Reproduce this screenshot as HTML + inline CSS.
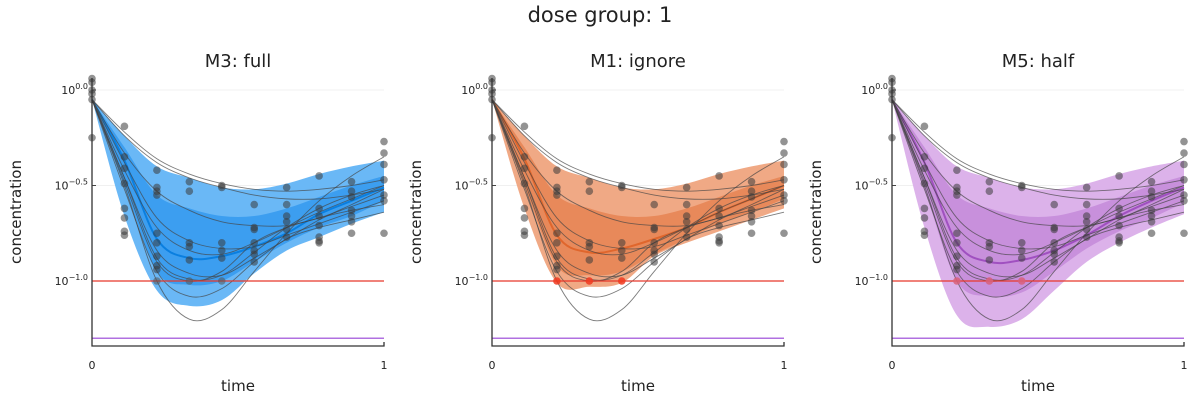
<!DOCTYPE html>
<html><head><meta charset="utf-8"><style>
body{margin:0;background:#fff;font-family:"Liberation Sans","DejaVu Sans",sans-serif}
svg text{font-family:"DejaVu Sans","Liberation Sans",sans-serif;fill:#222}
</style></head><body>
<svg id="c" width="1200" height="400" xmlns="http://www.w3.org/2000/svg">
<text x="600" y="22" text-anchor="middle" font-size="21">dose group: 1</text>
</svg>
<script>
const times=[0,1/9,2/9,3/9,4/9,5/9,6/9,7/9,8/9,1];
const subjects=[
[-0.05,-0.22,-0.36,-0.44,-0.49,-0.52,-0.53,-0.52,-0.50,-0.47],
[-0.05,-0.24,-0.38,-0.46,-0.51,-0.55,-0.57,-0.57,-0.55,-0.52],
[-0.05,-0.33,-0.53,-0.63,-0.69,-0.71,-0.71,-0.67,-0.61,-0.55],
[-0.05,-0.50,-1.00,-1.20,-1.15,-0.95,-0.75,-0.58,-0.45,-0.35],
[-0.05,-0.52,-0.95,-1.08,-1.04,-0.90,-0.78,-0.72,-0.68,-0.64],
[-0.05,-0.42,-0.72,-0.84,-0.86,-0.80,-0.72,-0.64,-0.57,-0.50],
[-0.05,-0.46,-0.84,-0.96,-0.97,-0.88,-0.78,-0.68,-0.60,-0.52],
[-0.05,-0.46,-0.88,-0.99,-0.97,-0.85,-0.72,-0.62,-0.55,-0.50],
[-0.05,-0.38,-0.67,-0.79,-0.83,-0.82,-0.76,-0.70,-0.64,-0.58],
[-0.05,-0.48,-0.90,-1.00,-0.95,-0.80,-0.72,-0.67,-0.63,-0.60]];
const observations=[
[0.06,0.04,0,-0.02,-0.05,-0.25],
[-0.19,-0.35,-0.41,-0.49,-0.62,-0.67,-0.74,-0.76],
[-0.42,-0.51,-0.53,-0.55,-0.75,-0.80,-0.87,-0.92,-0.94,-1.0],
[-0.48,-0.53,-0.8,-0.82,-0.89,-1.0],
[-0.5,-0.51,-0.8,-0.84,-0.88,-1.0],
[-0.60,-0.72,-0.73,-0.80,-0.84,-0.86,-0.90],
[-0.51,-0.6,-0.66,-0.69,-0.73,-0.77],
[-0.45,-0.62,-0.66,-0.71,-0.77,-0.79,-0.80],
[-0.48,-0.53,-0.56,-0.63,-0.66,-0.69,-0.75],
[-0.27,-0.33,-0.39,-0.47,-0.55,-0.58,-0.75]];
const medianFull=[-0.05,-0.37,-0.78,-0.88,-0.87,-0.82,-0.75,-0.65,-0.58,-0.51];
const outerUpper=[-0.05,-0.24,-0.40,-0.46,-0.51,-0.52,-0.49,-0.44,-0.40,-0.37];
const innerUpper=[-0.05,-0.30,-0.55,-0.62,-0.66,-0.66,-0.62,-0.56,-0.50,-0.45];
const innerLowerFull=[-0.05,-0.50,-0.95,-1.02,-1.00,-0.90,-0.80,-0.72,-0.66,-0.58];
const outerLowerFull=[-0.05,-0.66,-1.05,-1.13,-1.10,-0.96,-0.84,-0.77,-0.70,-0.64];
const medianIgnore=[-0.05,-0.36,-0.76,-0.85,-0.83,-0.78,-0.72,-0.64,-0.57,-0.50];
const innerLowerIgnore=[-0.05,-0.50,-0.92,-0.97,-0.95,-0.86,-0.78,-0.70,-0.64,-0.57];
const outerLowerIgnore=[-0.05,-0.62,-1.01,-1.03,-1.01,-0.87,-0.80,-0.74,-0.68,-0.62];
const medianHalf=[-0.05,-0.38,-0.80,-0.90,-0.89,-0.84,-0.76,-0.66,-0.58,-0.51];
const innerLowerHalf=[-0.05,-0.52,-1.00,-1.08,-1.06,-0.95,-0.83,-0.74,-0.67,-0.59];
const outerLowerHalf=[-0.05,-0.72,-1.18,-1.24,-1.20,-1.05,-0.90,-0.80,-0.72,-0.65];
const yTicks=[0,-0.5,-1.0];
const yTickLabels=["0.0","−0.5","−1.0"];
const xTicks=[0,1];
const lloq=-1.0, lod=-1.3;
const panelTitles=["M3: full","M1: ignore","M5: half"];

const NS="http://www.w3.org/2000/svg";
const svg=document.getElementById('c');
function mk(tag,attrs,parent){const e=document.createElementNS(NS,tag);for(const k in attrs)e.setAttribute(k,attrs[k]);(parent||svg).appendChild(e);return e;}
function smooth(pts){let d=`M${pts[0][0]},${pts[0][1]}`;for(let i=0;i<pts.length-1;i++){const p0=pts[Math.max(i-1,0)],p1=pts[i],p2=pts[i+1],p3=pts[Math.min(i+2,pts.length-1)];
d+=` C${p1[0]+(p2[0]-p0[0])/6},${p1[1]+(p2[1]-p0[1])/6} ${p2[0]-(p3[0]-p1[0])/6},${p2[1]-(p3[1]-p1[1])/6} ${p2[0]},${p2[1]}`;}return d;}
function smoothRev(pts){return smooth(pts.slice().reverse()).replace(/^M/,' L');}

const panels=[
{x0:92,color:"#0a7fe0",band:"#3c9ef0",band2:"#6ab8f6",med:medianFull,il:innerLowerFull,ol:outerLowerFull,cens:"#555"},
{x0:492,color:"#e0662c",band:"#e8895a",band2:"#f0a985",med:medianIgnore,il:innerLowerIgnore,ol:outerLowerIgnore,cens:"#f03a20"},
{x0:892,color:"#a050c0",band:"#c890dc",band2:"#dcb2ea",med:medianHalf,il:innerLowerHalf,ol:outerLowerHalf,cens:"#d8607a"}];

panels.forEach((p,pi)=>{
  const W=292,yTop=78,yBot=346;
  const X=t=>p.x0+t*W, Y=v=>90-v*191;
  const g=mk('g',{});
  
  
  const tt=mk('text',{x:p.x0+W/2,y:67,'text-anchor':'middle','font-size':18},g);tt.textContent=panelTitles[pi];
  
  yTicks.forEach((v,i)=>{
    const gl=mk('line',{x1:p.x0,x2:p.x0+W,y1:Y(v),y2:Y(v),stroke:'#000','stroke-opacity':0.06},g);
    
    const tk=mk('line',{x1:p.x0,x2:p.x0+4,y1:Y(v),y2:Y(v),stroke:'#444'},g);
    
    const t=mk('text',{x:p.x0-4,y:Y(v)+4,'text-anchor':'end','font-size':11},g);
    t.innerHTML=`10<tspan dy="-5" font-size="8">${yTickLabels[i]}</tspan>`;
    
  });
  xTicks.forEach(v=>{const t=mk('text',{x:X(v),y:369,'text-anchor':'middle','font-size':11},g);t.textContent=v;
    });
  const xt=mk('text',{x:p.x0+W/2,y:391,'text-anchor':'middle','font-size':15},g);xt.textContent='time';
  
  const yt=mk('text',{x:0,y:0,'text-anchor':'middle','font-size':15,transform:`translate(${p.x0-71},212) rotate(-90)`},g);yt.textContent='concentration';
  
  const up=outerUpper.map((v,i)=>[X(times[i]),Y(v)]);
  const ob=mk('path',{d:smooth(up)+smoothRev(p.ol.map((v,i)=>[X(times[i]),Y(v)]))+'Z',fill:p.band2},g);
  
  const ib=mk('path',{d:smooth(innerUpper.map((v,i)=>[X(times[i]),Y(v)]))+smoothRev(p.il.map((v,i)=>[X(times[i]),Y(v)]))+'Z',fill:p.band},g);
  
  const md=mk('path',{d:smooth(p.med.map((v,i)=>[X(times[i]),Y(v)])),fill:'none',stroke:p.color,'stroke-width':2},g);
  
  subjects.forEach(s=>{const l=mk('path',{d:smooth(s.map((v,i)=>[X(times[i]),Y(v)])),fill:'none',stroke:'#444','stroke-opacity':0.7,'stroke-width':0.9},g);
    });
  const rl=mk('line',{x1:p.x0,x2:p.x0+W,y1:Y(lloq),y2:Y(lloq),stroke:'#e8382a','stroke-width':1.3},g);
  
  const pl=mk('line',{x1:p.x0,x2:p.x0+W,y1:Y(lod),y2:Y(lod),stroke:'#b070e0','stroke-width':1.5},g);
  
  observations.forEach((arr,i)=>arr.forEach(v=>{
    const c=mk('circle',{cx:X(times[i]),cy:Y(v),r:3.8,fill:(v<=lloq&&i>0)?p.cens:'#3a3a3a','fill-opacity':(v<=lloq&&i>0&&pi>0)?0.85:0.55},g);
    }));
  const ax=mk('path',{d:`M${p.x0},${yTop} V${yBot} H${p.x0+W} v-4`,fill:'none',stroke:'#333','stroke-width':1.3},g);
  
});
</script>
</body></html>
